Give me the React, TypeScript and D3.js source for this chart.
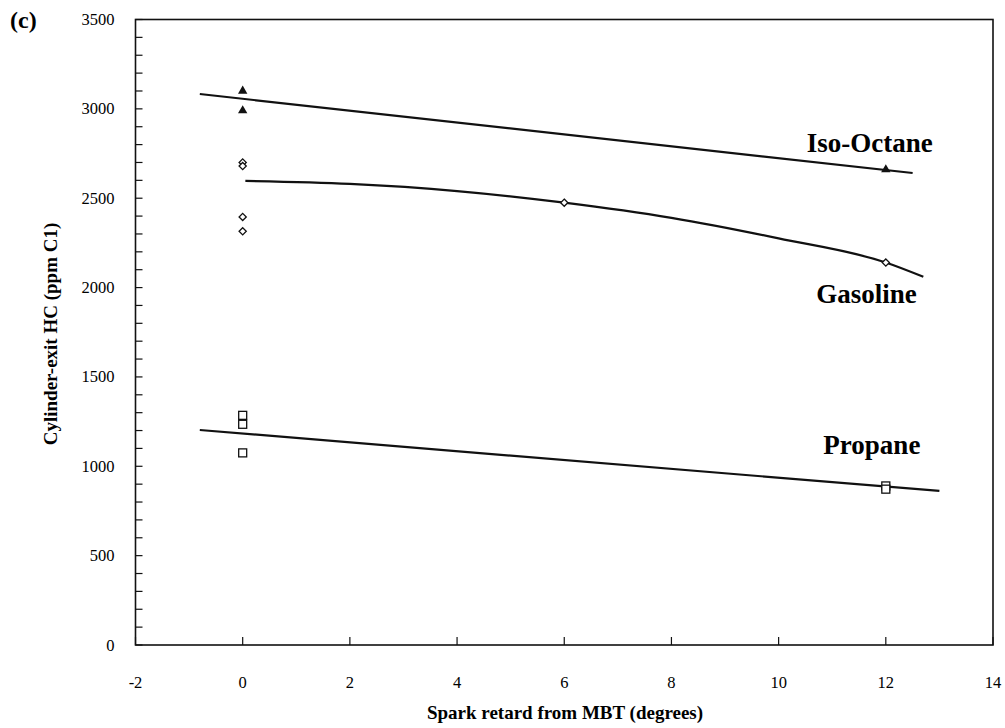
import React from "react";
import * as d3 from "d3";

// Axis ticks
const xTicks = [-2, 0, 2, 4, 6, 8, 10, 12, 14];
const yTicks = [0, 500, 1000, 1500, 2000, 2500, 3000, 3500];
const yMinorStep = 100;

// Measured cylinder-exit HC (ppm C1) vs spark retard (degrees)
const isoX = [0, 0, 12];
const isoY = [3100, 2990, 2660];
const gasX = [0, 0, 0, 0, 6, 12];
const gasY = [2700, 2680, 2395, 2315, 2475, 2140];
const propX = [0, 0, 0, 12, 12];
const propY = [1285, 1235, 1075, 890, 872];

// Trend lines
const isoFitX = [-0.8, 12.5];
const isoFitY = [3083, 2641];
const gasFitX = [0.05, 2, 4, 6, 8, 10, 12, 12.7];
const gasFitY = [2597, 2580, 2540, 2475, 2390, 2275, 2140, 2060];
const propFitX = [-0.8, 13];
const propFitY = [1203, 862];

// Curve labels
const labelText = ["Iso-Octane", "Gasoline", "Propane"];
const labelX = [11.7, 11.64, 11.74];
const labelY = [2760, 1914, 1066];

const W = 1005;
const H = 728;
const L = 135.5;
const R = 993;
const T = 19.5;
const B = 645;

const zip = (xs: number[], ys: number[]) => xs.map((x, i) => [x, ys[i]] as [number, number]);

export default function App() {
  const x = d3.scaleLinear().domain([-2, 14]).range([L, R]);
  const y = d3.scaleLinear().domain([0, 3500]).range([B, T]);

  const straight = d3
    .line<[number, number]>()
    .x((d) => x(d[0]))
    .y((d) => y(d[1]));
  const smooth = d3
    .line<[number, number]>()
    .x((d) => x(d[0]))
    .y((d) => y(d[1]))
    .curve(d3.curveMonotoneX);

  const minor = d3.range(0, 3500 + 1, yMinorStep);
  const font = "'Liberation Serif', 'Times New Roman', serif";

  const tri = d3.symbol(d3.symbolTriangle, 38)();
  const sqS = 8;
  const dia = 3.6;

  return (
    <svg
      width={W}
      height={H}
      style={{ position: "absolute", left: 0, top: 0, background: "#fff" }}
      fontFamily={font}
    >
      <text x={10} y={28} fontSize={24} fontWeight="bold">
        (c)
      </text>

      {/* frame */}
      <rect x={L} y={T} width={R - L} height={B - T} fill="none" stroke="#111" strokeWidth={1.6} />

      {/* y ticks */}
      {minor.map((v) => (
        <line key={"ym" + v} x1={L} x2={L + 7} y1={y(v)} y2={y(v)} stroke="#111" strokeWidth={1.2} />
      ))}
      {yTicks.map((v) => (
        <text key={"yl" + v} x={L - 21} y={y(v) + 5.5} fontSize={16.5} textAnchor="end">
          {v}
        </text>
      ))}

      {/* x ticks */}
      {xTicks.map((v) => (
        <g key={"x" + v}>
          <line x1={x(v)} x2={x(v)} y1={B} y2={B - 8} stroke="#111" strokeWidth={1.2} />
          <text x={x(v)} y={B + 43} fontSize={16.5} textAnchor="middle">
            {v}
          </text>
        </g>
      ))}

      {/* axis titles */}
      <text x={565} y={719} fontSize={19} fontWeight="bold" textAnchor="middle">
        Spark retard from MBT (degrees)
      </text>
      <text
        transform={`translate(57,334) rotate(-90)`}
        fontSize={19}
        fontWeight="bold"
        textAnchor="middle"
      >
        Cylinder-exit HC (ppm C1)
      </text>

      {/* trend lines */}
      <path d={straight(zip(isoFitX, isoFitY)) || ""} fill="none" stroke="#111" strokeWidth={2.2} />
      <path d={smooth(zip(gasFitX, gasFitY)) || ""} fill="none" stroke="#111" strokeWidth={2.2} />
      <path d={straight(zip(propFitX, propFitY)) || ""} fill="none" stroke="#111" strokeWidth={2.2} />

      {/* markers */}
      {zip(isoX, isoY).map(([a, b], i) => (
        <path key={"i" + i} d={tri || ""} transform={`translate(${x(a)},${y(b)})`} fill="#111" />
      ))}
      {zip(gasX, gasY).map(([a, b], i) => (
        <path
          key={"g" + i}
          d={`M${x(a)},${y(b) - dia}L${x(a) + dia},${y(b)}L${x(a)},${y(b) + dia}L${x(a) - dia},${y(b)}Z`}
          fill="#fff"
          stroke="#111"
          strokeWidth={1.3}
        />
      ))}
      {zip(propX, propY).map(([a, b], i) => (
        <rect
          key={"p" + i}
          x={x(a) - sqS / 2}
          y={y(b) - sqS / 2}
          width={sqS}
          height={sqS}
          fill="#fff"
          stroke="#111"
          strokeWidth={1.3}
        />
      ))}

      {/* curve labels */}
      {labelText.map((t, i) => (
        <text key={t} x={x(labelX[i])} y={y(labelY[i])} fontSize={27} fontWeight="bold" textAnchor="middle">
          {t}
        </text>
      ))}
    </svg>
  );
}
